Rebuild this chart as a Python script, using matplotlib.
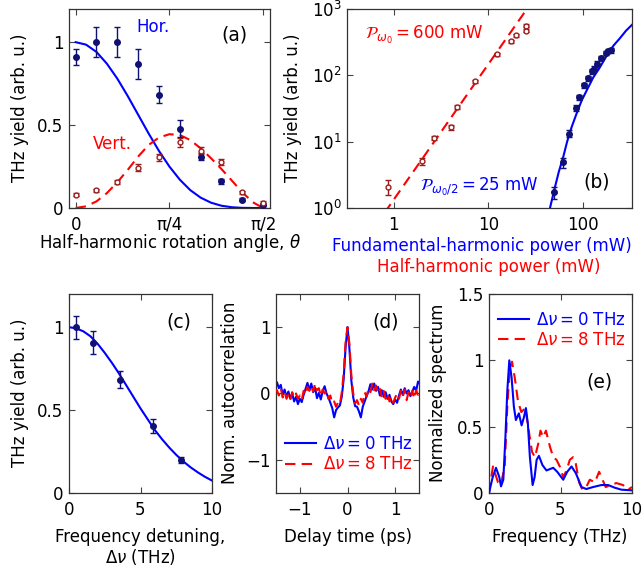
import numpy as np
import matplotlib
matplotlib.use("Agg")
import matplotlib.pyplot as plt

# ---------------- data ----------------
# (a) polarization dependence
theta_deg = [0, 10, 20, 30, 40, 50, 60, 70, 80, 90]
hor_vals = [0.91, 1.00, 1.00, 0.866, 0.683, 0.479, 0.31, 0.16, 0.05, 0.02]
hor_err = [0.05, 0.09, 0.09, 0.09, 0.05, 0.05, 0.02, 0.015, 0.01, 0.01]
vert_vals = [0.08, 0.106, 0.156, 0.244, 0.305, 0.395, 0.345, 0.277, 0.094, 0.03]
vert_err = [0.01, 0.01, 0.01, 0.02, 0.02, 0.03, 0.02, 0.02, 0.01, 0.01]
fit_theta_deg = [0, 5, 10, 15, 20, 25, 30, 35, 40, 45, 50, 55, 60, 65, 70, 75, 80, 85, 90]
hor_fit = [1.0, 0.985, 0.941, 0.870, 0.780, 0.675, 0.5625, 0.450, 0.344, 0.25,
           0.171, 0.108, 0.0625, 0.032, 0.0137, 0.0045, 0.0009, 0.0001, 0.0]
vert_fit = [0.0, 0.01, 0.04, 0.09, 0.155, 0.23, 0.31, 0.38, 0.425, 0.445,
            0.44, 0.41, 0.36, 0.30, 0.235, 0.165, 0.095, 0.035, 0.0]

# (b) power dependence
half_power = [0.87, 1.98, 2.67, 4.03, 4.63, 7.3, 12.4, 17.4, 19.8, 25.2, 25.2]
half_yield = [2.1, 5.1, 11.5, 16.6, 33.5, 81, 209, 327, 403, 562, 470]
half_err = [0.55, 0.6, 0.8, 1.5, 2.5, 4, 10, 15, 20, 30, 25]
half_fit_power = [0.8, 27.0]
half_fit_yield = [0.85, 1120]
fund_power = [49.8, 61, 71.8, 84.4, 91.5, 102.4, 114, 126, 132, 141, 157, 176, 186, 196]
fund_yield = [1.72, 4.9, 13.2, 32.7, 46.8, 70.8, 91, 116, 126, 150, 182, 216, 232, 237]
fund_err = [0.35, 0.85, 1.6, 3.5, 4.5, 7, 8, 10, 11, 12, 14, 15, 16, 17]
fund_fit_power = [43.5, 44.8, 50.6, 55.5, 61.9, 68, 75.9, 86, 96.9, 110, 128.5, 150, 178, 210, 246, 285, 335]
fund_fit_yield = [0.7, 1.0, 2.07, 3.5, 5.9, 10, 16.6, 27, 41.7, 60, 93, 130, 197, 280, 363, 470, 590]

# (c) detuning dependence
detuning = [0.49, 1.68, 3.54, 5.87, 7.85]
det_yield = [1.0, 0.906, 0.683, 0.404, 0.199]
det_err = [0.07, 0.07, 0.05, 0.045, 0.02]
det_fit_x = [0, 0.5, 1, 1.5, 2, 2.5, 3, 3.5, 4, 4.5, 5, 5.5, 6, 6.5, 7, 7.5, 8, 8.5, 9, 9.5, 10]
det_fit_y = [1.0, 0.993, 0.975, 0.945, 0.9, 0.845, 0.785, 0.72, 0.65, 0.58, 0.51,
             0.445, 0.38, 0.325, 0.275, 0.23, 0.19, 0.155, 0.125, 0.098, 0.075]

# (d) autocorrelation
delay = np.linspace(-1.52, 1.52, 77)
acorr_0 = [0.12, 0.17, 0.08, 0.13, -0.02, 0.06, -0.05, 0.03, -0.08, 0.00,
           -0.12, -0.05, -0.16, -0.08, -0.13, -0.02, 0.07, 0.16, 0.05, 0.15,
           0.02, 0.09, -0.07, 0.01, -0.09, 0.04, 0.11, 0.00, -0.06, -0.14,
           -0.22, -0.36, -0.25, -0.21, -0.18, -0.05, 0.22, 0.70, 1.00, 0.68,
           0.20, -0.06, -0.19, -0.20, -0.27, -0.36, -0.20, -0.12, -0.04, 0.03,
           0.14, 0.06, 0.15, 0.04, 0.10, -0.03, 0.05, -0.05, 0.02, -0.08,
           -0.02, -0.12, -0.16, -0.09, -0.14, -0.03, 0.06, -0.02, 0.08, 0.00,
           0.05, -0.04, 0.03, 0.10, 0.04, 0.18, 0.14]
acorr_8 = [0.02, 0.05, -0.03, 0.08, -0.06, 0.03, -0.08, -0.02, -0.10, 0.02,
           -0.06, 0.00, -0.08, -0.03, -0.10, 0.04, -0.02, 0.10, 0.04, 0.12,
           0.03, 0.15, 0.05, 0.08, -0.04, 0.06, 0.00, 0.04, -0.08, -0.03,
           -0.15, -0.12, -0.20, -0.14, -0.17, 0.02, 0.30, 0.78, 1.00, 0.75,
           0.28, 0.00, -0.15, -0.10, -0.18, -0.08, -0.14, 0.02, -0.05, 0.08,
           0.02, 0.15, 0.05, 0.12, 0.00, 0.07, -0.06, 0.04, -0.08, 0.00,
           -0.12, -0.04, -0.14, -0.06, 0.00, -0.08, 0.04, -0.05, 0.06, -0.10,
           0.02, -0.06, 0.04, -0.08, 0.05, -0.02, 0.03]

# (e) spectra
freq_0 = [0, 0.26, 0.49, 0.72, 0.84, 1.0, 1.14, 1.28, 1.42, 1.58, 1.74, 1.88, 2.09, 2.28,
          2.44, 2.58, 2.72, 2.86, 3.05, 3.19, 3.33, 3.49, 3.74, 4.02, 4.49, 4.77, 5.19,
          5.47, 5.77, 6.07, 6.47, 6.8, 7.28, 7.86, 8.33, 8.79, 9.26, 10.0]
spec_0 = [0, 0.12, 0.19, 0.12, 0.05, 0.1, 0.4, 0.77, 1.0, 0.87, 0.65, 0.55, 0.6, 0.51,
          0.57, 0.64, 0.52, 0.27, 0.06, 0.12, 0.25, 0.28, 0.21, 0.17, 0.19, 0.16, 0.10,
          0.16, 0.2, 0.15, 0.045, 0.03, 0.045, 0.06, 0.06, 0.04, 0.025, 0.02]
freq_8 = [0, 0.12, 0.28, 0.45, 0.63, 0.82, 1.1, 1.28, 1.45, 1.61, 1.8, 2.03, 2.26, 2.54,
          2.85, 3.01, 3.21, 3.44, 3.6, 3.79, 3.98, 4.26, 4.49, 4.72, 4.95, 5.19, 5.42,
          5.65, 5.88, 6.07, 6.3, 6.53, 6.8, 7.05, 7.4, 7.7, 7.86, 8.16, 8.56, 8.9,
          9.37, 9.72, 10.0]
spec_8 = [0, 0.096, 0.2, 0.14, 0.08, 0.06, 0.2, 0.65, 0.93, 0.99, 0.87, 0.69, 0.61, 0.64,
          0.42, 0.31, 0.27, 0.37, 0.47, 0.42, 0.47, 0.35, 0.27, 0.25, 0.2, 0.12, 0.17,
          0.25, 0.27, 0.22, 0.08, 0.025, 0.045, 0.1, 0.08, 0.16, 0.12, 0.045, 0.06, 0.075,
          0.06, 0.025, 0.045]

# ---------------- style ----------------
plt.rcParams.update({
    "font.family": "DejaVu Sans",
    "font.size": 12,
    "xtick.direction": "in",
    "ytick.direction": "in",
    "xtick.top": True,
    "ytick.right": True,
    "xtick.major.size": 4,
    "ytick.major.size": 4,
    "xtick.major.width": 0.8,
    "ytick.major.width": 0.8,
    "xtick.major.pad": 5.5,
    "ytick.major.pad": 4,
    "xtick.color": "#444444",
    "ytick.color": "#444444",
    "xtick.labelcolor": "black",
    "ytick.labelcolor": "black",
    "axes.edgecolor": "#333333",
    "axes.linewidth": 0.9,
    "mathtext.fontset": "dejavusans",
})

BLUE = "#0000ff"
RED = "#ff0000"
NAVY = "#101075"
BROWN = "#9b1c1c"
PANEL_FS = 13.5

W, H = 642, 571
fig = plt.figure(figsize=(W / 100, H / 100), dpi=100)


def ax_px(l, t, r, b):
    return fig.add_axes([l / W, 1 - b / H, (r - l) / W, (b - t) / H])


def ftext(x, y, s, **kw):
    fig.text(x / W, 1 - y / H, s, ha="center", va="center", **kw)


ax_a = ax_px(69, 9, 270, 208)
ax_b = ax_px(347, 9, 632, 208)
ax_c = ax_px(69, 294, 212, 493)
ax_d = ax_px(276, 294, 419, 493)
ax_e = ax_px(489, 294, 632, 493)

# ---- (a)
th = np.deg2rad(theta_deg)
fth = np.deg2rad(fit_theta_deg)
ax_a.plot(fth, hor_fit, color=BLUE, lw=1.5, zorder=2)
ax_a.plot(fth, vert_fit, color=RED, lw=1.5, dashes=(5, 3), zorder=2)
ax_a.errorbar(th, hor_vals, yerr=hor_err, fmt="o", ms=4, color=NAVY, ecolor=NAVY,
              elinewidth=1, capsize=2.5, capthick=1, zorder=3)
ax_a.errorbar(th, vert_vals, yerr=vert_err, fmt="o", ms=3.5, mfc="white", mec=BROWN,
              mew=1, color=BROWN, ecolor=BROWN, elinewidth=1, capsize=2.5, capthick=1, zorder=3)
ax_a.set_xlim(np.deg2rad(-3.2), np.deg2rad(93.3))
ax_a.set_ylim(0, 1.2)
ax_a.set_xticks([0, np.pi / 4, np.pi / 2])
ax_a.set_xticklabels(["0", "π/4", "π/2"])
ax_a.set_yticks([0, 0.5, 1])
ax_a.set_yticklabels(["0", "0.5", "1"])
ax_a.text(0.333, 0.91, "Hor.", color=BLUE, transform=ax_a.transAxes, ha="left", va="center")
ax_a.text(0.12, 0.32, "Vert.", color=RED, transform=ax_a.transAxes, ha="left", va="center")
ax_a.text(0.825, 0.87, "(a)", transform=ax_a.transAxes, ha="center", va="center", fontsize=PANEL_FS)
ftext(170, 243, r"Half-harmonic rotation angle, $\theta$")
ftext(20, 108, "THz yield (arb. u.)", rotation=90)

# ---- (b)
ax_b.set_xscale("log")
ax_b.set_yscale("log")
ax_b.plot(half_fit_power, half_fit_yield, color=RED, lw=1.5, dashes=(5, 3), zorder=2)
ax_b.plot(fund_fit_power, fund_fit_yield, color=BLUE, lw=1.5, zorder=2)
ax_b.errorbar(half_power, half_yield, yerr=half_err, fmt="o", ms=3.5, mfc="white", mec=BROWN,
              mew=1, color=BROWN, ecolor=BROWN, elinewidth=1, capsize=2.5, capthick=1, zorder=3)
ax_b.errorbar(fund_power, fund_yield, yerr=fund_err, fmt="o", ms=4, color=NAVY, ecolor=NAVY,
              elinewidth=1, capsize=2.5, capthick=1, zorder=3)
ax_b.set_xlim(0.32, 330)
ax_b.set_ylim(1, 1000)
ax_b.set_xticks([1, 10, 100])
ax_b.set_xticklabels(["1", "10", "100"])
ax_b.set_yticks([1, 10, 100, 1000])
ax_b.set_yticklabels([r"$10^{0}$", r"$10^{1}$", r"$10^{2}$", r"$10^{3}$"])
ax_b.minorticks_off()
ax_b.text(0.063, 0.87, r"$\mathcal{P}_{\omega_0} = 600$ mW", color=RED,
          transform=ax_b.transAxes, ha="left", va="center")
ax_b.text(0.256, 0.105, r"$\mathcal{P}_{\omega_0/2} = 25$ mW", color=BLUE,
          transform=ax_b.transAxes, ha="left", va="center")
ax_b.text(0.875, 0.13, "(b)", transform=ax_b.transAxes, ha="center", va="center", fontsize=PANEL_FS)
ftext(482, 246, "Fundamental-harmonic power (mW)", color=BLUE)
ftext(489, 267, "Half-harmonic power (mW)", color=RED)
ftext(293, 108, "THz yield (arb. u.)", rotation=90)

# ---- (c)
ax_c.plot(det_fit_x, det_fit_y, color=BLUE, lw=1.5, zorder=2)
ax_c.errorbar(detuning, det_yield, yerr=det_err, fmt="o", ms=4, color=NAVY, ecolor=NAVY,
              elinewidth=1, capsize=2.5, capthick=1, zorder=3)
ax_c.set_xlim(0, 10)
ax_c.set_ylim(0, 1.2)
ax_c.set_xticks([0, 5, 10])
ax_c.set_yticks([0, 0.5, 1])
ax_c.set_yticklabels(["0", "0.5", "1"])
ax_c.text(0.77, 0.86, "(c)", transform=ax_c.transAxes, ha="center", va="center", fontsize=PANEL_FS)
ftext(140, 537, "Frequency detuning,")
ftext(140, 557, r"$\Delta\nu$ (THz)")
ftext(20, 393, "THz yield (arb. u.)", rotation=90)

# ---- (d)
ax_d.plot(delay, acorr_0, color=BLUE, lw=1.5, label=r"$\Delta\nu = 0$ THz", zorder=2)
ax_d.plot(delay, acorr_8, color=RED, lw=1.5, dashes=(5, 3), label=r"$\Delta\nu = 8$ THz", zorder=3)
ax_d.set_xlim(-1.5, 1.5)
ax_d.set_ylim(-1.5, 1.5)
ax_d.set_xticks([-1, 0, 1])
ax_d.set_yticks([-1, 0, 1])
ax_d.set_xticklabels(["\u22121", "0", "1"])
ax_d.set_yticklabels(["\u22121", "0", "1"])
ax_d.text(0.77, 0.86, "(d)", transform=ax_d.transAxes, ha="center", va="center", fontsize=PANEL_FS)
leg = ax_d.legend(loc="lower left", bbox_to_anchor=(-0.02, 0.04), frameon=False,
                  handlelength=1.9, handletextpad=0.4, labelspacing=0.15, borderpad=0.2)
for t, c in zip(leg.get_texts(), [BLUE, RED]):
    t.set_color(c)
ftext(348, 537, "Delay time (ps)")
ftext(230, 393, "Norm. autocorrelation", rotation=90)

# ---- (e)
ax_e.plot(freq_0, spec_0, color=BLUE, lw=1.5, label=r"$\Delta\nu = 0$ THz", zorder=3)
ax_e.plot(freq_8, spec_8, color=RED, lw=1.5, dashes=(5, 3), label=r"$\Delta\nu = 8$ THz", zorder=2)
ax_e.set_xlim(0, 10)
ax_e.set_ylim(0, 1.5)
ax_e.set_xticks([0, 5, 10])
ax_e.set_yticks([0, 0.5, 1, 1.5])
ax_e.set_yticklabels(["0", "0.5", "1", "1.5"])
ax_e.text(0.77, 0.56, "(e)", transform=ax_e.transAxes, ha="center", va="center", fontsize=PANEL_FS)
leg = ax_e.legend(loc="upper left", bbox_to_anchor=(-0.02, 0.975), frameon=False,
                  handlelength=1.9, handletextpad=0.4, labelspacing=0.15, borderpad=0.2)
for t, c in zip(leg.get_texts(), [BLUE, RED]):
    t.set_color(c)
ftext(560, 537, "Frequency (THz)")
ftext(438, 393, "Normalized spectrum", rotation=90)

fig.savefig("out.png", dpi=100)
